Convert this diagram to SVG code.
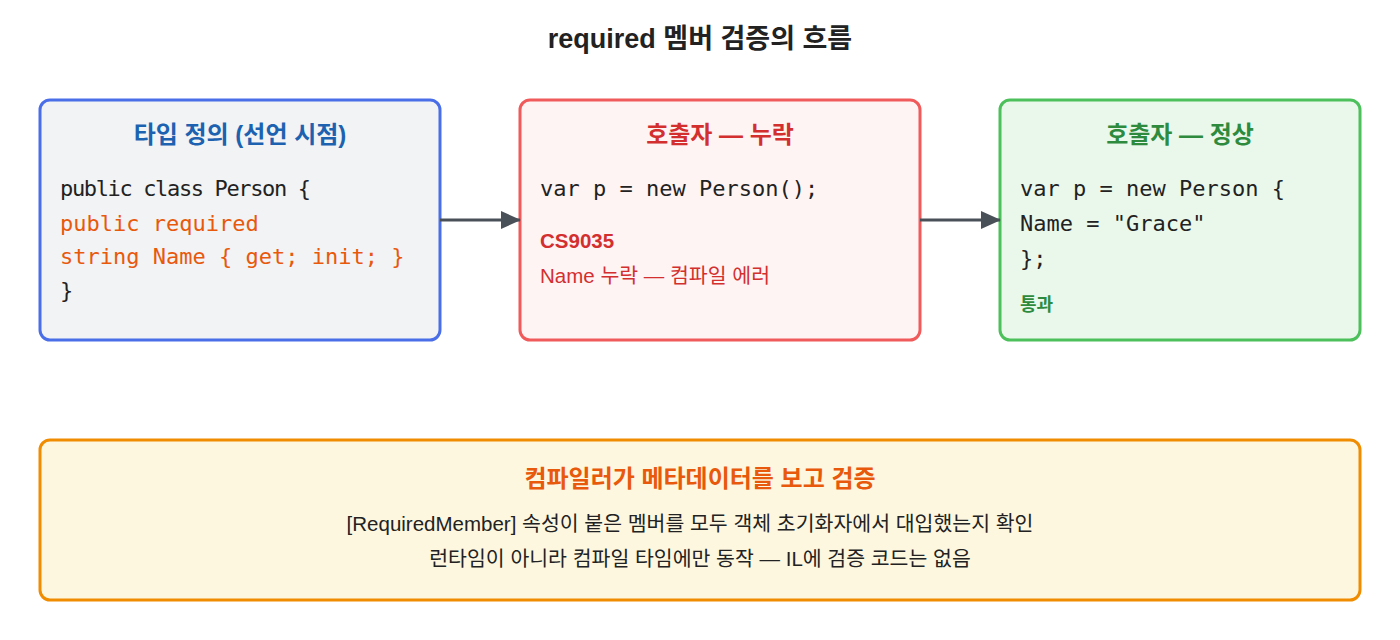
<svg xmlns="http://www.w3.org/2000/svg" width="1400" height="640" viewBox="0 0 1400 640">
<style>
.t{font-family:"Liberation Sans","Noto Sans CJK KR",sans-serif;font-weight:bold;font-size:24px;text-anchor:middle}
.m{font-family:"DejaVu Sans Mono","Liberation Mono","Noto Sans CJK KR",monospace;font-size:22px;fill:#222}
.s{font-family:"Liberation Sans","Noto Sans CJK KR",sans-serif;font-size:20.5px}
.c{stroke:#4a5058;stroke-width:3;fill:none;marker-end:url(#a)}
</style>
<defs><marker id="a" markerWidth="20" markerHeight="20" refX="19" refY="10" orient="auto" markerUnits="userSpaceOnUse" viewBox="0 0 20 20"><path d="M0,1L20,10L0,19z" fill="#4a5058"/></marker></defs>
<rect width="1400" height="640" fill="#fff"/>
<text class="t" x="700" y="48" fill="#222" style="font-size:27px">required 멤버 검증의 흐름</text>
<g id="type">
<rect x="40" y="100" width="400" height="240" rx="10" fill="#f1f3f5" stroke="#4a6ee8" stroke-width="3"/>
<text class="t" x="240" y="143" fill="#1c62b0">타입 정의 (선언 시점)</text>
<text class="m" x="60" y="196" textLength="251">public class Person {</text>
<text class="m" x="60" y="231" style="fill:#e8590c">public required</text>
<text class="m" x="60" y="264" style="fill:#e8590c">string Name { get; init; }</text>
<text class="m" x="60" y="298">}</text>
</g>
<g id="missing">
<rect x="520" y="100" width="400" height="240" rx="10" fill="#fff4f4" stroke="#f05a5a" stroke-width="3"/>
<text class="t" x="720" y="143" fill="#d32f2f">호출자 — 누락</text>
<text class="m" x="540" y="196">var p = new Person();</text>
<text class="s" x="540" y="248" fill="#d32f2f" font-weight="bold">CS9035</text>
<text class="s" x="540" y="283" fill="#d32f2f">Name 누락 — 컴파일 에러</text>
</g>
<g id="ok">
<rect x="1000" y="100" width="360" height="240" rx="10" fill="#eaf8ec" stroke="#4cc05a" stroke-width="3"/>
<text class="t" x="1180" y="143" fill="#2e8b3e">호출자 — 정상</text>
<text class="m" x="1020" y="196">var p = new Person {</text>
<text class="m" x="1020" y="231">Name = "Grace"</text>
<text class="m" x="1020" y="266">};</text>
<text class="s" x="1020" y="311" fill="#2e8b3e" font-weight="bold" style="font-size:18px">통과</text>
</g>
<g id="note">
<rect x="40" y="440" width="1320" height="160" rx="10" fill="#fdf7e0" stroke="#f08c00" stroke-width="3"/>
<text class="t" x="700" y="487" fill="#e8590c">컴파일러가 메타데이터를 보고 검증</text>
<text class="s" x="690" y="531" fill="#222" text-anchor="middle">[RequiredMember] 속성이 붙은 멤버를 모두 객체 초기화자에서 대입했는지 확인</text>
<text class="s" x="700" y="566" fill="#222" text-anchor="middle">런타임이 아니라 컴파일 타임에만 동작 — IL에 검증 코드는 없음</text>
</g>
<g id="connectors">
<path class="c" d="M440,220H520"/>
<path class="c" d="M920,220H1000"/>
</g>
</svg>
